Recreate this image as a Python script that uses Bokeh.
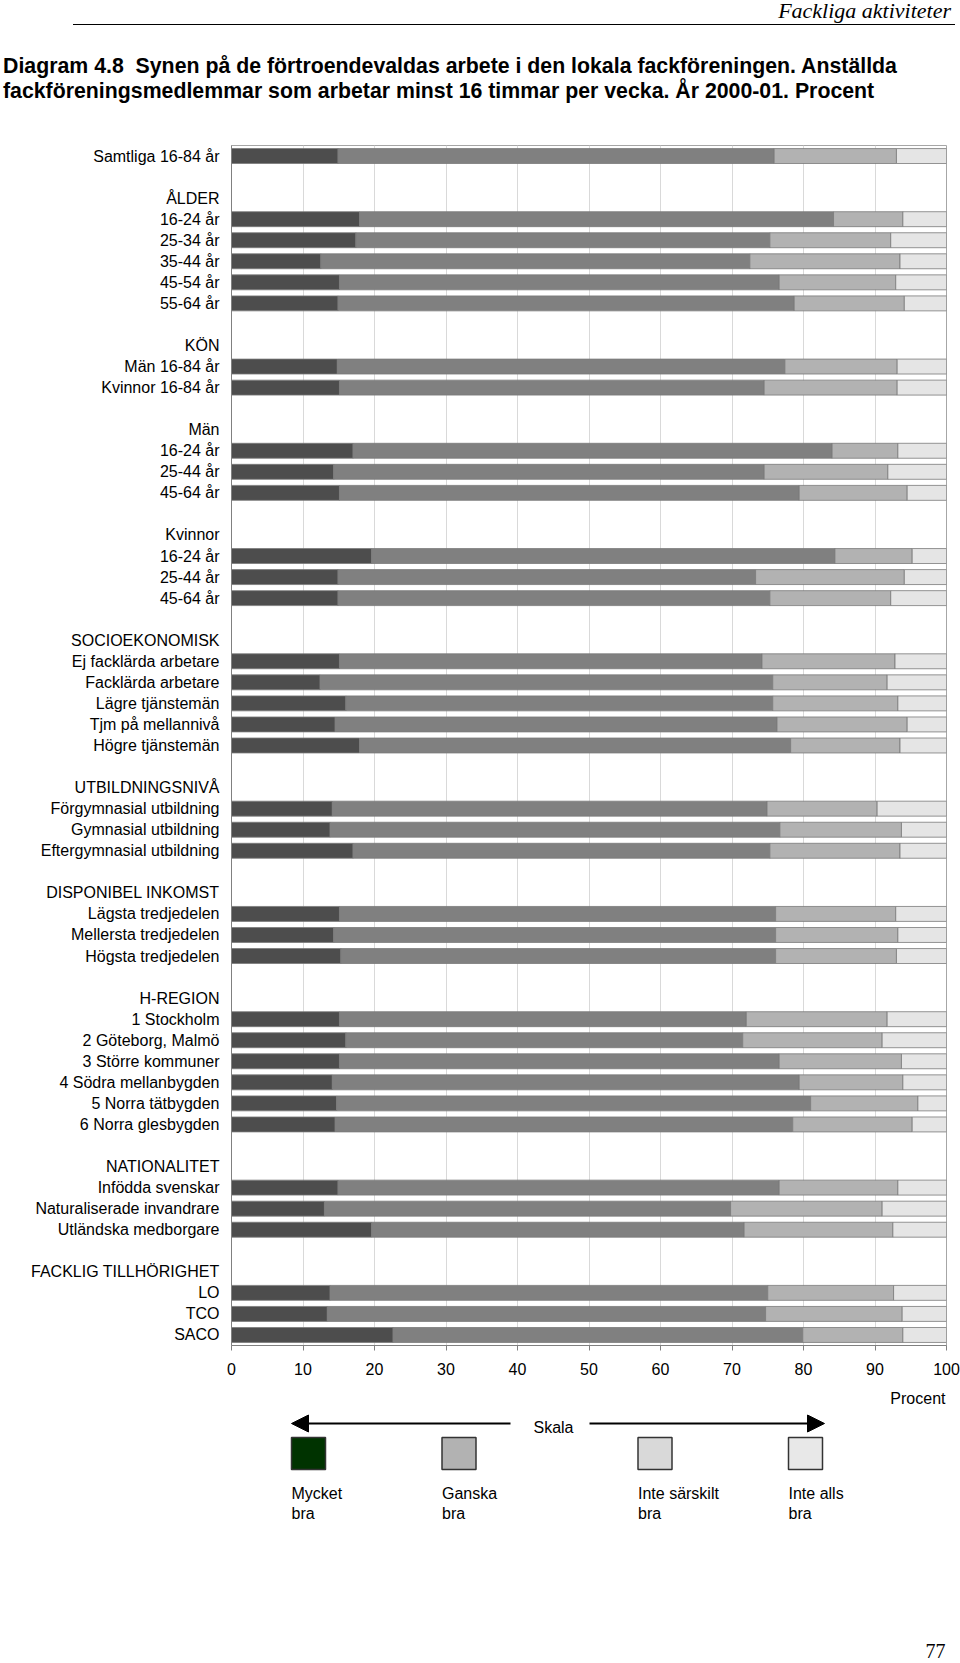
from bokeh.plotting import figure
from bokeh.layouts import column
from bokeh.models import ColumnDataSource, Range1d, FixedTicker, Label, Arrow, NormalHead, Div
from bokeh.embed import file_html
from bokeh.resources import INLINE

N = None

# ---------------- data ----------------
row_labels = [
    "Samtliga 16-84 år", "", "ÅLDER", "16-24 år", "25-34 år", "35-44 år", "45-54 år", "55-64 år", "",
    "KÖN", "Män 16-84 år", "Kvinnor 16-84 år", "",
    "Män", "16-24 år", "25-44 år", "45-64 år", "",
    "Kvinnor", "16-24 år", "25-44 år", "45-64 år", "",
    "SOCIOEKONOMISK", "Ej facklärda arbetare", "Facklärda arbetare", "Lägre tjänstemän",
    "Tjm på mellannivå", "Högre tjänstemän", "",
    "UTBILDNINGSNIVÅ", "Förgymnasial utbildning", "Gymnasial utbildning", "Eftergymnasial utbildning", "",
    "DISPONIBEL INKOMST", "Lägsta tredjedelen", "Mellersta tredjedelen", "Högsta tredjedelen", "",
    "H-REGION", "1 Stockholm", "2 Göteborg, Malmö", "3 Större kommuner", "4 Södra mellanbygden",
    "5 Norra tätbygden", "6 Norra glesbygden", "",
    "NATIONALITET", "Infödda svenskar", "Naturaliserade invandrare", "Utländska medborgare", "",
    "FACKLIG TILLHÖRIGHET", "LO", "TCO", "SACO",
]

mycket_bra = [14.9, N, N, 17.9, 17.4, 12.5, 15.1, 14.9, N,
              N, 14.8, 15.1, N,
              N, 17.0, 14.3, 15.1, N,
              N, 19.6, 14.9, 14.9, N,
              N, 15.1, 12.4, 16.0, 14.5, 17.9, N,
              N, 14.1, 13.8, 17.0, N,
              N, 15.1, 14.3, 15.3, N,
              N, 15.1, 16.0, 15.1, 14.1, 14.7, 14.5, N,
              N, 14.9, 13.0, 19.6, N,
              N, 13.8, 13.4, 22.6]

ganska_bra = [61.0, N, N, 66.3, 57.9, 60.0, 61.5, 63.8, N,
              N, 62.6, 59.4, N,
              N, 67.0, 60.2, 64.3, N,
              N, 64.8, 58.4, 60.4, N,
              N, 59.1, 63.3, 59.7, 61.8, 60.3, N,
              N, 60.8, 62.9, 58.3, N,
              N, 61.0, 61.8, 60.8, N,
              N, 56.9, 55.5, 61.5, 65.3, 66.3, 64.0, N,
              N, 61.7, 56.8, 52.1, N,
              N, 61.2, 61.3, 57.3]

inte_sarskilt_bra = [17.1, N, N, 9.7, 16.9, 21.0, 16.3, 15.4, N,
                     N, 15.7, 18.6, N,
                     N, 9.2, 17.3, 15.1, N,
                     N, 10.8, 20.8, 16.9, N,
                     N, 18.6, 16.0, 17.5, 18.2, 15.3, N,
                     N, 15.4, 17.0, 18.2, N,
                     N, 16.8, 17.1, 16.9, N,
                     N, 19.7, 19.5, 17.1, 14.5, 15.0, 16.7, N,
                     N, 16.6, 21.2, 20.8, N,
                     N, 17.6, 19.1, 14.0]

inte_alls_bra = [7.0, N, N, 6.1, 7.8, 6.5, 7.1, 5.9, N,
                 N, 6.9, 6.9, N,
                 N, 6.8, 8.2, 5.5, N,
                 N, 4.8, 5.9, 7.8, N,
                 N, 7.2, 8.3, 6.8, 5.5, 6.5, N,
                 N, 9.7, 6.3, 6.5, N,
                 N, 7.1, 6.8, 7.0, N,
                 N, 8.3, 9.0, 6.3, 6.1, 4.0, 4.8, N,
                 N, 6.8, 9.0, 7.5, N,
                 N, 7.4, 6.2, 6.1]

x_ticks = [0, 10, 20, 30, 40, 50, 60, 70, 80, 90, 100]
bar_colors = ["#4d4d4d", "#808080", "#b2b2b2", "#e5e5e5"]

legend_top = ["Mycket", "Ganska", "Inte särskilt", "Inte alls"]
legend_bottom = ["bra", "bra", "bra", "bra"]
legend_colors = ["#003300", "#b2b2b2", "#d9d9d9", "#e8e8e8"]

header_text = "Fackliga aktiviteter"
title_lines = ["Diagram 4.8  Synen på de förtroendevaldas arbete i den lokala fackföreningen. Anställda",
               "fackföreningsmedlemmar som arbetar minst 16 timmar per vecka. År 2000-01. Procent"]

FONT = "Liberation Sans"
SERIF = "Liberation Serif"
W = 960

# ---------------- header (HTML) ----------------
HA = 120
header_html = (
    f'<div style="position:relative;width:{W}px;height:{HA}px;">'
    f'<div style="position:absolute;right:9px;top:0px;line-height:1;white-space:nowrap;'
    f'font-family:\'{SERIF}\';font-style:italic;font-size:22px;color:black;">{header_text}</div>'
    f'<div style="position:absolute;left:73px;top:23.5px;width:882px;height:0;border-top:1.5px solid black;"></div>'
    f'<div style="position:absolute;left:3px;top:55.5px;line-height:1;white-space:pre;'
    f'font-family:\'{FONT}\';font-weight:bold;font-size:21.3px;color:black;">{title_lines[0]}</div>'
    f'<div style="position:absolute;left:3px;top:80.5px;line-height:1;white-space:pre;'
    f'font-family:\'{FONT}\';font-weight:bold;font-size:21.3px;color:black;">{title_lines[1]}</div>'
    '</div>'
)
pa = Div(text=header_html, width=W, height=HA, margin=0)

# ---------------- main chart ----------------
n_rows = len(row_labels)
idx = [i for i, v in enumerate(mycket_bra) if v is not None]
src = ColumnDataSource(dict(
    row=idx,
    mycket=[mycket_bra[i] for i in idx],
    ganska=[ganska_bra[i] for i in idx],
    sarskilt=[inte_sarskilt_bra[i] for i in idx],
    alls=[inte_alls_bra[i] for i in idx],
))

HB = 1265
pb = figure(width=W, height=HB, x_range=Range1d(0, 100),
            y_range=Range1d(n_rows - 0.5, -0.5),
            toolbar_location=None, output_backend="svg",
            min_border_left=231, min_border_right=14, min_border_top=25, min_border_bottom=40)
pb.hbar_stack(["mycket", "ganska", "sarskilt", "alls"], y="row", height=0.71,
              fill_color=bar_colors, line_color="#7a7a7a", line_width=0.8, source=src)

pb.outline_line_color = "#a6a6a6"
pb.outline_line_width = 1
pb.xgrid.ticker = FixedTicker(ticks=x_ticks)
pb.xgrid.grid_line_color = "#d9d9d9"
pb.xgrid.grid_line_width = 1
pb.ygrid.grid_line_color = None

xa = pb.xaxis[0]
xa.ticker = FixedTicker(ticks=x_ticks)
xa.axis_line_color = "#808080"
xa.major_tick_line_color = "#808080"
xa.major_tick_out = 5
xa.major_tick_in = 0
xa.minor_tick_line_color = None
xa.major_label_text_font = FONT
xa.major_label_text_font_size = "16px"
xa.major_label_text_color = "black"
xa.major_label_standoff = 12

ya = pb.yaxis[0]
ya.ticker = FixedTicker(ticks=list(range(n_rows)))
ya.major_label_overrides = {i: lab for i, lab in enumerate(row_labels)}
ya.axis_line_color = "#808080"
ya.major_tick_line_color = None
ya.major_tick_out = 0
ya.major_tick_in = 0
ya.minor_tick_line_color = None
ya.major_label_text_font = FONT
ya.major_label_text_font_size = "16px"
ya.major_label_text_color = "black"
ya.major_label_standoff = 12

# ---------------- legend / footer figure (coordinates = page pixels) ----------------
TOPC = HA + HB
HC = 1663 - TOPC
pc = figure(width=W, height=HC, x_range=Range1d(231, 946), y_range=Range1d(1663, TOPC),
            toolbar_location=None, output_backend="svg",
            min_border_left=231, min_border_right=14, min_border_top=0, min_border_bottom=0,
            x_axis_location=None, y_axis_location=None)
pc.grid.visible = False
pc.outline_line_color = None

pc.add_layout(Label(x=945, y=1398, text="Procent", text_align="right", text_baseline="middle",
                    text_font=FONT, text_font_size="16px", text_color="black"))
pc.add_layout(Arrow(x_start=510, y_start=1423, x_end=291, y_end=1423, line_width=2, line_color="black",
                    end=NormalHead(size=17, fill_color="black", line_color="black")))
pc.add_layout(Arrow(x_start=589, y_start=1423, x_end=824, y_end=1423, line_width=2, line_color="black",
                    end=NormalHead(size=17, fill_color="black", line_color="black")))
pc.add_layout(Label(x=553, y=1427, text="Skala", text_align="center", text_baseline="middle",
                    text_font=FONT, text_font_size="16px", text_color="black"))

box_left = [291, 441.5, 637.5, 788]
pc.quad(left=box_left, right=[b + 34 for b in box_left], top=[1437] * 4, bottom=[1469] * 4,
        fill_color=legend_colors, line_color="#333333", line_width=1.5)
for bx, t1, t2 in zip(box_left, legend_top, legend_bottom):
    pc.add_layout(Label(x=bx, y=1493, text=t1, text_align="left", text_baseline="middle",
                        text_font=FONT, text_font_size="16px", text_color="black"))
    pc.add_layout(Label(x=bx, y=1513, text=t2, text_align="left", text_baseline="middle",
                        text_font=FONT, text_font_size="16px", text_color="black"))

pc.add_layout(Label(x=945, y=1650, text="77", text_align="right", text_baseline="middle",
                    text_font=SERIF, text_font_size="20px", text_color="black"))

layout = column(pa, pb, pc, spacing=0)
open("out.html", "w").write(file_html(layout, INLINE))
